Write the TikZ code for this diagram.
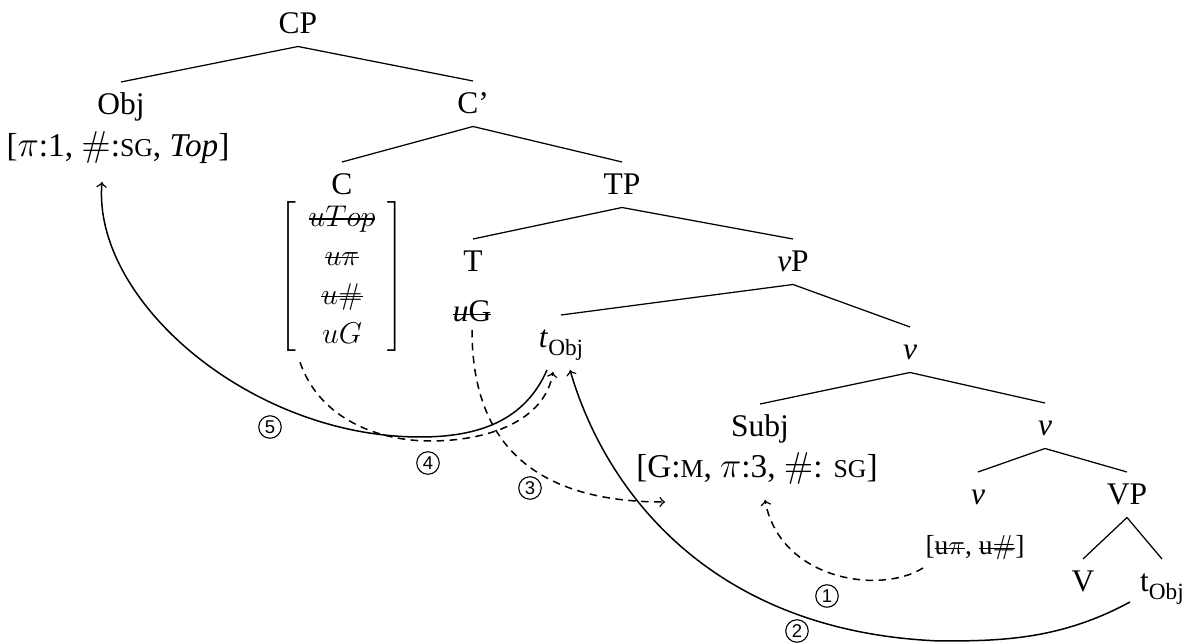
\documentclass[tikz,border=0pt]{standalone}
\usepackage[no-math]{fontspec}
\setmainfont{Liberation Serif}
\newfontfamily\circfont{Liberation Sans}
\usetikzlibrary{calc}
% struck-out (checked) feature
\newsavebox\strikebox
\newcommand\xout[1]{\sbox\strikebox{#1}\rlap{\rule[0.5ex]{\wd\strikebox}{0.45pt}}\usebox\strikebox}
% small capitals and lowered subscript
\newcommand\fsc[1]{{\fontsize{10.3}{12}\selectfont #1}}
\newcommand\tsub[1]{\raisebox{-0.55ex}{\fontsize{9.3}{10}\selectfont #1}}
\begin{document}
\begin{tikzpicture}[x=0.4pt,y=-0.4pt,
  font=\fontsize{12.6}{15}\selectfont,
  tn/.style={inner sep=0pt,text height=13pt,text depth=4.8pt,anchor=base},
  ft/.style={inner sep=0pt,anchor=base,font=\fontsize{13.3}{16}\selectfont},
  branch/.style={line width=0.5pt},
  mv/.style={->,line width=0.6pt},
  agr/.style={->,line width=0.6pt,dash pattern=on 3pt off 2.2pt},
  num/.style={circle,draw,line width=0.45pt,inner sep=0pt,minimum size=9pt,
              font=\circfont\fontsize{7.4}{8}\selectfont}]
\useasboundingbox (0,0) rectangle (1194,644);

% tree labels
\node[tn] (CP) at (298,34) {CP};
\node[tn] (Obj) at (121,115) {Obj};
\node[ft] (ObjF) at (118,157) {[$\pi$:1, $\#$:\fsc{SG}, \textit{Top}]};
\node[tn] (Cbar) at (473,114) {C’};
\node[tn,text depth=0pt] (C) at (342,195) {C};
\node[inner sep=0pt,font=\fontsize{12}{14.4}\selectfont] (Cm) at (342,277) {\renewcommand\arraystretch{1.08}$\left[\begin{array}{c}
   \xout{$uTop$}\\ \xout{$u\pi$}\\ \xout{$u\#$}\\ uG \end{array}\right]$};
\node[tn] (TP) at (622,195) {TP};
\node[tn] (T) at (473,272) {T};
\node[ft,font=\fontsize{12.6}{15}\selectfont] (Tf) at (472,322) {\xout{\textit{u}G}};
\node[tn] (vP) at (793,272) {\textit{v}P};
\node[tn] (tO) at (561,348) {\textit{t}\tsub{Obj}};
\node[tn] (v1) at (910,360) {\textit{v}};
\node[tn] (Subj) at (760,437) {Subj};
\node[ft] (SubjF) at (757,478) {[G:\fsc{M}, $\pi$:3, $\#$: \fsc{SG}]};
\node[tn] (v2) at (1045,436) {\textit{v}};
\node[tn] (v3) at (978,505) {\textit{v}};
\node[tn] (VP) at (1127,505) {VP};
\node[ft,font=\fontsize{11}{12}\selectfont] (vF) at (975,555) {[\xout{u$\pi$}, \xout{u$\#$}]};
\node[tn] (V) at (1083,592) {V};
\node[tn] (tO2) at (1162,592) {t\tsub{Obj}};

% branches
\draw[branch] (CP.south) -- (Obj.north);
\draw[branch] (CP.south) -- (Cbar.north);
\draw[branch] (Cbar.south) -- (C.north);
\draw[branch] (Cbar.south) -- (TP.north);
\draw[branch] (TP.south) -- (T.north);
\draw[branch] (TP.south) -- (vP.north);
\draw[branch] (vP.south) -- (tO.north);
\draw[branch] (vP.south) -- (v1.north);
\draw[branch] (v1.south) -- (Subj.north);
\draw[branch] (v1.south) -- (v2.north);
\draw[branch] (v2.south) -- (v3.north);
\draw[branch] (v2.south) -- (VP.north);
\draw[branch] (VP.south) -- (V.north);
\draw[branch] (VP.south) -- (tO2.north);

% agree (dashed) and move (solid) arrows
\draw[agr] ($(vF.base)+(-52,13)$) .. controls (880,595) and (780,580) .. ($(SubjF.base)+(8,22)$);
\draw[mv] ($(tO2.base)+(-32,10)$) .. controls (1060,640) and (1000,641) .. (940,641)
   .. controls (710,632) and (605,490) .. ($(tO.base)+(9,22)$);
\draw[agr] ($(Tf.base)+(0,8)$) .. controls (472,430) and (520,502) .. ($(SubjF.base)+(-92,24)$);
\draw[agr] ($(Cm.south)+(-42,7)$) .. controls (320,420) and (380,441) .. (430,441)
   .. controls (490,441) and (545,420) .. ($(tO.base)+(-8,24)$);
\draw[mv] ($(tO.base)+(-14,22)$) .. controls (525,420) and (480,437) .. (420,437)
   .. controls (250,437) and (92,300) .. ($(ObjF.base)+(-16,25)$);

% step numbers
\node[num] (n1) at (827,596) {1};
\node[num] (n2) at (797,631) {2};
\node[num] (n3) at (530,488) {3};
\node[num] (n4) at (428,463) {4};
\node[num] (n5) at (270,427) {5};
\end{tikzpicture}
\end{document}
